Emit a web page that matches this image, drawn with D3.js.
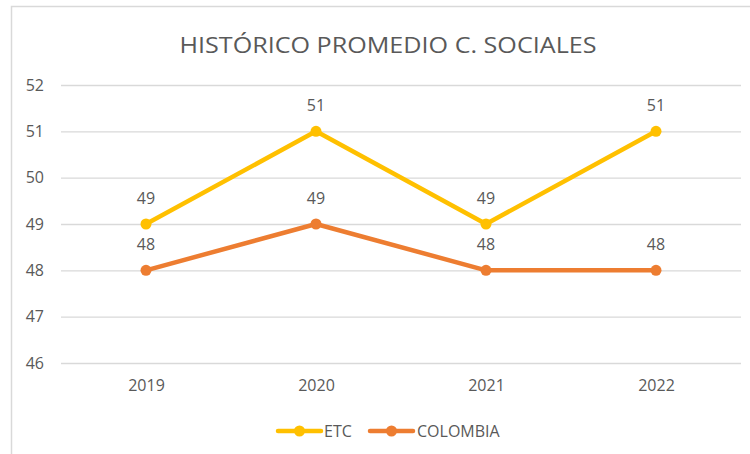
<!DOCTYPE html>
<html><head><meta charset="utf-8">
<script src="https://cdn.jsdelivr.net/npm/d3@7"></script>
<style>body{margin:0;background:#fff}svg{display:block}text{font-family:"Open Sans","Noto Sans",sans-serif;fill:#595959}</style>
</head><body>
<script>
const title = "HISTÓRICO PROMEDIO C. SOCIALES";
const categories = ["2019","2020","2021","2022"];
const etcValues = [49,51,49,51];
const colombiaValues = [48,49,48,48];
const yTicks = [46,47,48,49,50,51,52];
const seriesNames = ["ETC","COLOMBIA"];
const seriesColors = ["#FFC000","#ED7D31"];

const W=750,H=454;
const svg=d3.select("body").append("svg").attr("width",W).attr("height",H);
svg.append("rect").attr("x",11.5).attr("y",6.5).attr("width",W).attr("height",H).attr("fill","#fff").attr("stroke","#d9d9d9").attr("stroke-width",1.5);

const x=d3.scalePoint().domain(categories).range([61,741]).padding(0.5);
const y=d3.scaleLinear().domain([46,52]).range([363,85]);

svg.append("text").attr("x",388).attr("y",53).attr("text-anchor","middle").attr("font-size",22).attr("textLength",417).attr("lengthAdjust","spacingAndGlyphs").text(title);

const ya=svg.append("g").attr("transform","translate(61,0)").call(d3.axisLeft(y).tickValues(yTicks).tickSize(-680).tickPadding(17).tickFormat(d3.format("d")));
ya.select(".domain").remove();
ya.selectAll("line").attr("stroke","#d9d9d9").attr("stroke-width",1.3);
ya.selectAll("text").attr("font-size",16).attr("fill","#595959").attr("font-family","Open Sans");

const xa=svg.append("g").attr("transform","translate(0,363)").call(d3.axisBottom(x).tickSize(0).tickPadding(17));
xa.select(".domain").remove();
xa.selectAll("text").attr("font-size",16).attr("fill","#595959").attr("font-family","Open Sans");

const series=[etcValues,colombiaValues];
const line=d3.line().x((d,i)=>x(categories[i])).y(d=>y(d));
series.forEach((vals,si)=>{
  const g=svg.append("g");
  g.append("path").attr("d",line(vals)).attr("fill","none").attr("stroke",seriesColors[si]).attr("stroke-width",4.5).attr("stroke-linejoin","round");
  g.selectAll("circle").data(vals).join("circle").attr("cx",(d,i)=>x(categories[i])).attr("cy",d=>y(d)).attr("r",5.5).attr("fill",seriesColors[si]);
  g.selectAll("text").data(vals).join("text").attr("x",(d,i)=>x(categories[i])).attr("y",d=>y(d)-20).attr("text-anchor","middle").attr("font-size",16).text(d=>d);
});

const legend=[{x0:278,tx:324},{x0:370,tx:417}];
seriesNames.forEach((n,i)=>{
  const L=legend[i];
  svg.append("line").attr("x1",L.x0).attr("x2",L.x0+43).attr("y1",431).attr("y2",431).attr("stroke",seriesColors[i]).attr("stroke-width",4.5).attr("stroke-linecap","round");
  svg.append("circle").attr("cx",L.x0+21.5).attr("cy",431).attr("r",5.5).attr("fill",seriesColors[i]);
  svg.append("text").attr("x",L.tx).attr("y",436.5).attr("font-size",16).text(n);
});
</script>
</body></html>
